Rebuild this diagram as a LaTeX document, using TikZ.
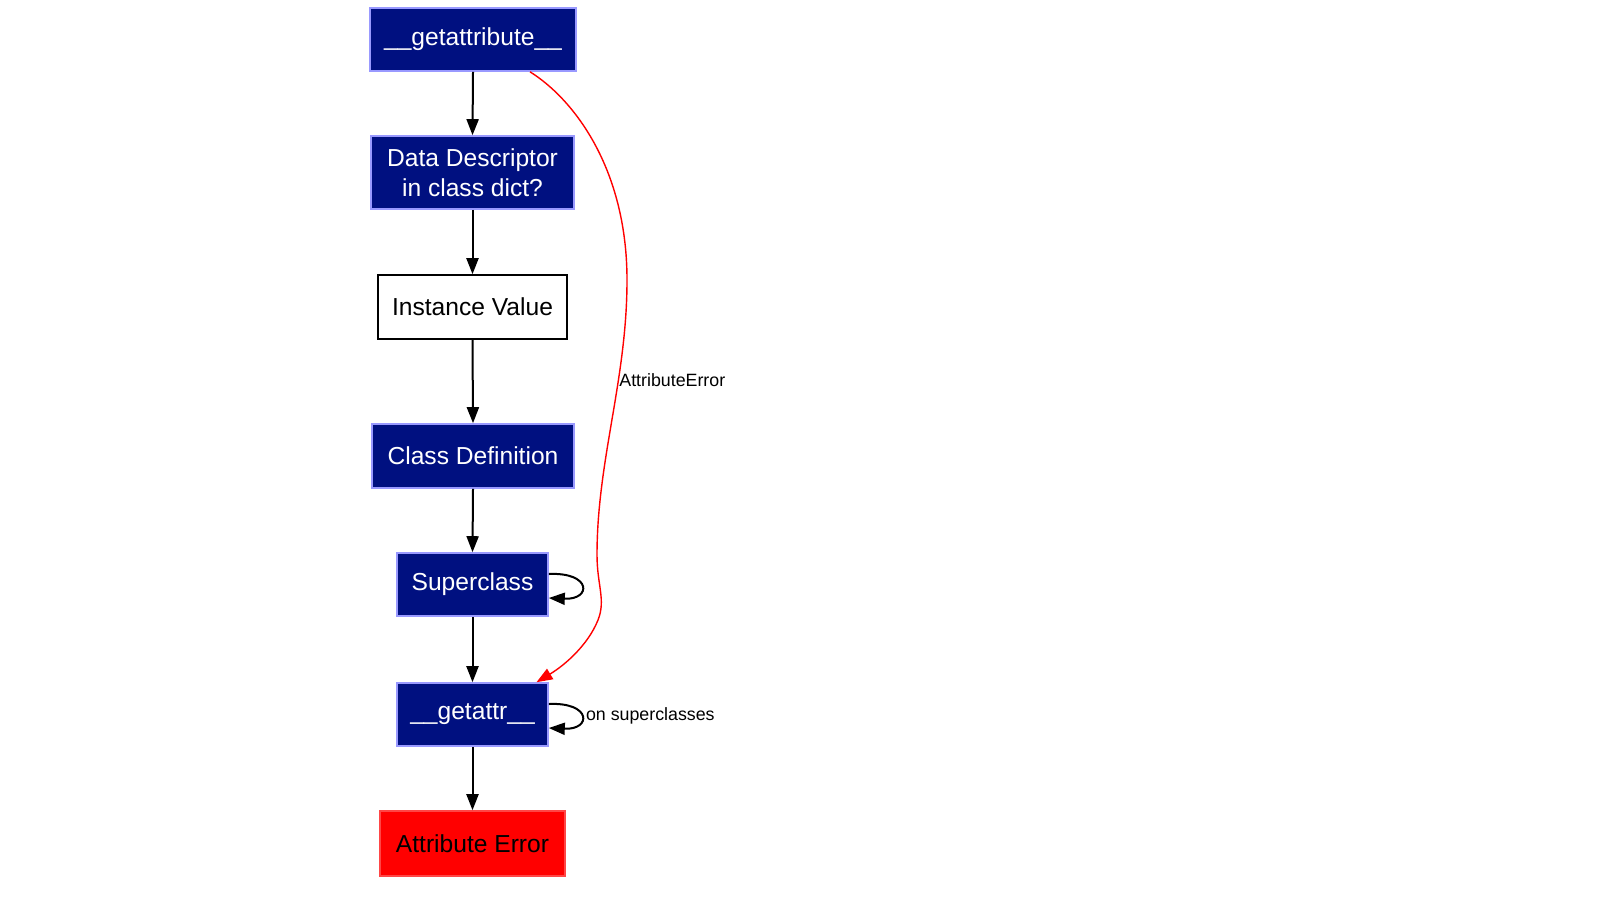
\documentclass[tikz,border=0pt]{standalone}
\usepackage{fontspec}
\setmainfont{Liberation Sans}
\usetikzlibrary{arrows.meta}
\definecolor{navy}{RGB}{0,16,128}
\definecolor{rim}{RGB}{153,153,255}
\definecolor{errrim}{RGB}{255,70,70}
\begin{document}
\begin{tikzpicture}[x=0.5pt,y=-0.5pt,
  box/.style={line width=0.8pt,inner sep=0pt,align=center,font=\fontsize{12.3}{15}\selectfont},
  bluebox/.style={box,draw=rim,fill=navy,text=white},
  plainbox/.style={box,draw=black,fill=white},
  errbox/.style={box,draw=errrim,fill=red},
  edge/.style={-{Triangle[length=8pt,width=6pt]},line width=1pt},
  erredge/.style={edge,draw=red,line width=0.7pt},
  edgelabel/.style={font=\fontsize{8.9}{10}\selectfont,inner sep=2pt}]
\useasboundingbox (0,0) rectangle (1599,900);
% the chain of lookups
\node[bluebox,minimum width=103pt,minimum height=31.5pt] (gattribute) at (473,39.5) {\_\_getattribute\_\_};
\node[bluebox,minimum width=101.5pt,minimum height=36.5pt] (desc) at (472.5,172.5) {Data Descriptor\\in class dict?};
\node[plainbox,minimum width=94.5pt,minimum height=32pt] (inst) at (472.5,307) {Instance Value};
\node[bluebox,minimum width=101pt,minimum height=32pt] (classdef) at (473,456) {Class Definition};
\node[bluebox,minimum width=75.5pt,minimum height=31.5pt] (super) at (472.5,584.5) {Superclass};
\node[bluebox,minimum width=75.5pt,minimum height=31.5pt] (gattr) at (472.5,714.5) {\_\_getattr\_\_};
\node[errbox,minimum width=92.5pt,minimum height=32.5pt] (err) at (472.5,843.5) {Attribute Error};
\foreach \a/\b in {gattribute/desc,desc/inst,inst/classdef,classdef/super,super/gattr,gattr/err}
  \draw[edge] (\a.south) -- (\b.north);
% self loops
\draw[edge] ([yshift=5.25pt]super.east) .. controls +(43,-2) and +(43,2) .. ([yshift=-6.75pt]super.east);
\draw[edge] ([yshift=5.25pt]gattr.east) .. controls +(43,-2) and +(43,2) .. ([yshift=-6.75pt]gattr.east)
  node[edgelabel,pos=0.5,anchor=west] (looplbl) {on superclasses};
% the shortcut on error
\draw[erredge] ([xshift=28.5pt]gattribute.south) .. controls (575,100) and (627,170) .. (627,280)
  .. controls (627,380) and (597,460) .. (597,555)
  .. controls (597,585) and (606,600) .. (598,620)
  .. controls (588,645) and (565,665) .. ([xshift=32pt]gattr.north);
\node[edgelabel,anchor=west] (errlbl) at (615,380) {AttributeError};
\end{tikzpicture}
\end{document}
